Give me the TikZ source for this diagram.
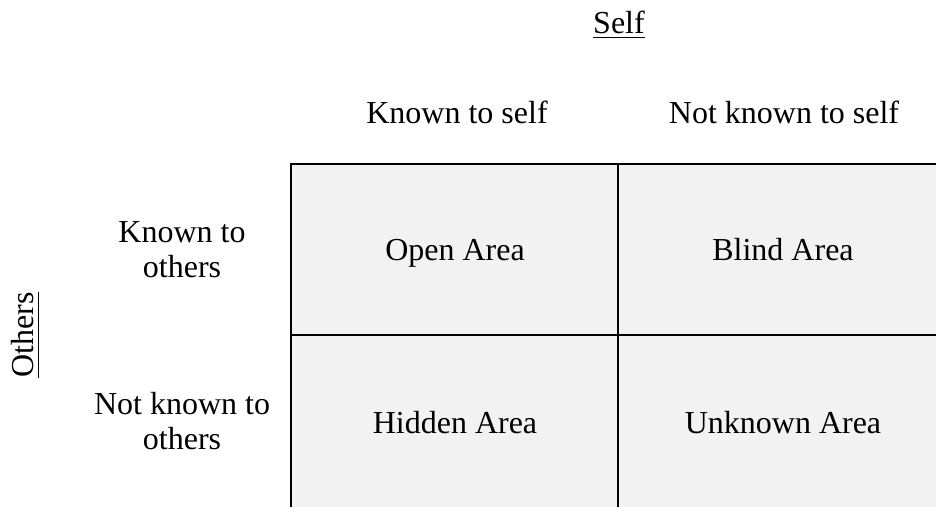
\documentclass[tikz,border=0pt]{standalone}
\usepackage{fontspec}
\setmainfont{Liberation Serif}
\definecolor{cellgray}{HTML}{F2F2F2}
\begin{document}
\begin{tikzpicture}[x=1pt,y=-1pt,
  txt/.style={font=\fontsize{32}{35}\selectfont, inner sep=0pt, anchor=base},
  gridline/.style={line width=2pt, draw=black},
  uline/.style={line width=1.8pt, draw=black}]
\useasboundingbox (0,0) rectangle (936,506);
\begin{scope}
  \clip (0,0) rectangle (936,506);
  \fill[cellgray] (291,164) rectangle (1000,600);
  \coordinate (tl) at (291,164);
  \coordinate (tr) at (1000,164);
  \coordinate (bl) at (291,600);
  \coordinate (mt) at (618,164);
  \coordinate (mb) at (618,600);
  \coordinate (ml) at (291,335);
  \coordinate (mr) at (1000,335);
  \draw[gridline] (bl) -- (tl) -- (tr);
  \draw[gridline] (mt) -- (mb);
  \draw[gridline] (ml) -- (mr);
\end{scope}
% headers
\node[txt] (self) at (619,33) {Self};
\draw[uline] ([yshift=-4.5pt]self.base west) -- ([yshift=-4.5pt]self.base east);
\node[txt] (kts) at (457,123) {Known to self};
\node[txt] (nkts) at (784,123) {Not known to self};
% row labels
\node[txt] (kto1) at (182,242) {Known to};
\node[txt] (kto2) at (182,277) {others};
\node[txt] (nkto1) at (182,414) {Not known to};
\node[txt] (nkto2) at (182,449) {others};
\node[txt, rotate=90] (oth) at (33,335) {Others};
\draw[uline] ([xshift=5.5pt]oth.base west) -- ([xshift=5.5pt]oth.base east);
% cells
\node[txt] (open) at (455,260) {Open Area};
\node[txt] (blind) at (783,260) {Blind Area};
\node[txt] (hidden) at (455,433) {Hidden Area};
\node[txt] (unknown) at (783,433) {Unknown Area};
\end{tikzpicture}
\end{document}
